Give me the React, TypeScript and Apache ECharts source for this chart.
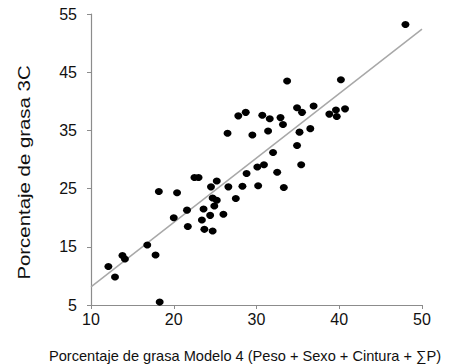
import React, { useEffect, useRef } from "react";
import * as echarts from "echarts";

const modelo4X: number[] = [
  48.0, 33.7, 40.2, 34.9, 36.9, 35.5, 38.8, 39.6, 40.7, 39.7,
  30.7, 31.6, 32.9, 33.2, 29.5, 31.4, 35.2, 36.5, 34.9, 32.0,
  26.5, 27.8, 28.7, 12.1, 12.9, 13.8, 14.1, 16.8, 17.8, 18.3,
  18.2, 20.4, 20.0, 21.6, 21.7, 22.5, 23.0, 23.6, 23.4, 23.7,
  24.4, 24.7, 24.5, 25.2, 24.7, 25.2, 24.9, 26.0, 26.6, 27.5,
  28.3, 28.8, 30.1, 30.2, 30.9, 32.5, 35.4, 33.3,
];
const grasa3C: number[] = [
  53.2, 43.5, 43.7, 38.9, 39.2, 38.1, 37.8, 38.5, 38.7, 37.4,
  37.6, 37.0, 37.2, 36.0, 34.2, 34.9, 34.7, 35.3, 32.4, 31.2,
  34.5, 37.5, 38.1, 11.6, 9.8, 13.5, 12.9, 15.3, 13.6, 5.5,
  24.5, 24.3, 20.0, 21.3, 18.5, 26.9, 26.9, 21.5, 19.6, 18.0,
  20.4, 17.7, 25.3, 26.3, 23.4, 23.0, 22.0, 20.6, 25.3, 23.3,
  25.4, 27.6, 28.7, 25.5, 29.1, 27.8, 29.1, 25.2,
];
const lineX: number[] = [10, 50];
const lineY: number[] = [8.1, 52.4];
const yTicks: number[] = [5, 15, 25, 35, 45, 55];
const xTicks: number[] = [10, 20, 30, 40, 50];
const xTitle = "Porcentaje de grasa Modelo 4 (Peso + Sexo + Cintura + \u2211P)";
const yTitle = "Porcentaje de grasa 3C";

export default function App() {
  const ref = useRef<HTMLDivElement>(null);
  useEffect(() => {
    if (!ref.current) return;
    const chart = echarts.init(ref.current, null, { renderer: "svg" });
    const font = "Arial, 'Liberation Sans', sans-serif";
    const axisColor = "#8c8c8c";
    chart.setOption({
      animation: false,
      backgroundColor: "#ffffff",
      grid: { left: 91, right: 31, top: 14, bottom: 59, containLabel: false },
      xAxis: {
        type: "value",
        min: 10,
        max: 50,
        interval: 10,
        axisLine: { show: true, lineStyle: { color: axisColor, width: 1.2 } },
        axisTick: { show: true, length: 4, lineStyle: { color: axisColor }, customValues: xTicks },
        axisLabel: { color: "#111", fontSize: 16, fontFamily: font, margin: 6, customValues: xTicks },
        splitLine: { show: false },
      },
      yAxis: {
        type: "value",
        min: 5,
        max: 55,
        axisLine: { show: true, lineStyle: { color: axisColor, width: 1.2 } },
        axisTick: { show: true, length: 4, lineStyle: { color: axisColor }, customValues: yTicks },
        axisLabel: { color: "#111", fontSize: 16, fontFamily: font, margin: 14, customValues: yTicks },
        splitLine: { show: false },
      },
      series: [
        {
          type: "line",
          data: lineX.map((x, i) => [x, lineY[i]]),
          showSymbol: false,
          symbol: "none",
          lineStyle: { color: "#a8a8a8", width: 1.5 },
          silent: true,
          z: 1,
        },
        {
          type: "scatter",
          data: modelo4X.map((x, i) => [x, grasa3C[i]]),
          symbol: "circle",
          symbolSize: [8, 7],
          itemStyle: { color: "#000", opacity: 1 },
          z: 2,
        },
      ],
      graphic: [
        {
          type: "text",
          x: 49,
          y: 355.5,
          style: {
            text: xTitle,
            fill: "#111",
            font: `14.6px ${font}`,
            align: "left",
            verticalAlign: "middle",
          },
        },
        {
          type: "text",
          x: 24.5,
          y: 172.5,
          rotation: Math.PI / 2,
          scaleX: 1.26,
          scaleY: 1,
          style: {
            text: yTitle,
            fill: "#111",
            font: `16.2px ${font}`,
            align: "center",
            verticalAlign: "middle",
          },
        },
      ],
    });
    return () => chart.dispose();
  }, []);
  return <div ref={ref} style={{ width: 453, height: 364, position: "absolute", left: 0, top: 0 }} />;
}
